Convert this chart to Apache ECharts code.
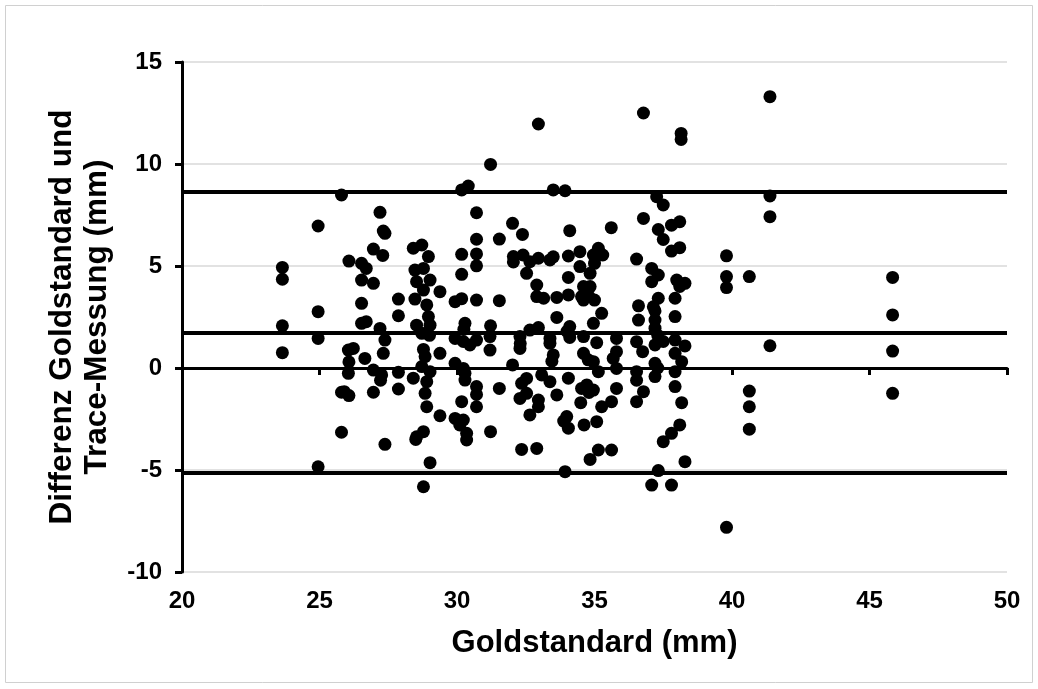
<!DOCTYPE html>
<html>
<head>
<meta charset="utf-8">
<script src="https://cdn.jsdelivr.net/npm/echarts@6/dist/echarts.min.js"></script>
<style>
  html, body { margin: 0; padding: 0; background: #fff; }
  #chart { width: 1038px; height: 689px; }
</style>
</head>
<body>
<div id="chart"></div>
<script>
// Messpunkte: [Goldstandard (mm), Differenz Goldstandard - Trace (mm)]
const messpunkte = [
  [23.65, 4.93], [23.65, 4.35], [23.65, 2.07], [23.65, 0.75],
  [24.95, 6.96], [24.95, 2.76], [24.95, 1.45], [24.95, -4.84],
  [25.8, 8.48], [25.8, -1.19], [25.8, -3.15],
  [26.07, 5.24], [26.05, 0.88], [26.07, 0.3], [26.05, -0.26], [26.07, -1.35], [25.9, -1.16],
  [26.23, 0.96],
  [26.53, 5.13], [26.53, 4.31], [26.53, 3.17], [26.53, 2.19],
  [26.7, 4.88], [26.7, 2.27], [26.65, 0.47],
  [26.96, 5.83], [26.96, 4.15], [26.96, -0.1], [26.96, -1.19],
  [27.2, 7.63], [27.3, 5.52], [27.2, 1.94], [27.26, -0.34], [27.22, -0.6], [27.32, 0.72],
  [27.32, 6.71], [27.38, 6.6], [27.38, 1.37], [27.38, -3.74],
  [27.87, 3.38], [27.87, 2.56], [27.87, -0.21], [27.87, -1.03],
  [28.41, 5.87], [28.47, 4.8], [28.53, 4.23], [28.47, 3.38], [28.53, 2.1], [28.41, -0.5], [28.53, -3.37], [28.5, -3.5],
  [28.72, 6.03], [28.78, 4.88], [28.78, 3.82], [28.72, 1.7], [28.72, 0.07], [28.78, 0.91], [28.84, -1.24], [28.78, -3.12], [28.78, -5.82],
  [28.96, 5.46], [28.9, 3.09], [28.96, 2.52], [28.9, -0.67], [28.9, -1.9], [28.84, 0.56],
  [29.02, 4.31], [29.02, 2.1], [29.0, 1.6], [29.02, -0.18], [29.02, -4.64],
  [29.38, 3.74], [29.38, 0.72], [29.38, -2.34],
  [29.93, 3.25], [29.93, 1.45], [29.93, 0.23], [29.93, -2.47],
  [30.17, 8.73], [30.17, 5.57], [30.17, 4.59], [30.17, 3.4], [30.17, -1.65], [30.1, -2.79], [30.23, -0.02], [30.23, -2.55], [30.23, 1.3],
  [30.41, 8.92], [30.29, 2.19], [30.25, 1.9], [30.29, -0.59], [30.35, -3.2], [30.35, -3.53], [30.47, 1.13], [30.29, -0.26],
  [30.71, 7.61], [30.71, 6.31], [30.71, 5.59], [30.71, 5.01], [30.71, 3.33], [30.71, 1.37], [30.71, -0.91], [30.71, -1.3], [30.71, -1.9],
  [31.22, 9.98], [31.22, 2.07], [31.2, 1.54], [31.2, 0.88], [31.22, -3.12],
  [31.54, 6.32], [31.54, 3.3], [31.54, -1.0],
  [32.02, 7.09], [32.05, 5.46], [32.05, 5.2], [32.02, 0.15],
  [32.38, 6.55], [32.4, 5.54], [32.29, 1.54], [32.29, 0.96], [32.35, -0.75], [32.29, -1.49], [32.35, -3.99], [32.3, 1.2],
  [32.53, 4.64], [32.65, 5.21], [32.65, 1.86], [32.53, -0.51], [32.53, -1.24], [32.65, -2.3],
  [32.96, 11.96], [32.96, 5.38], [32.9, 4.07], [32.9, 3.5], [32.96, 1.98], [32.96, -1.57], [32.96, -1.9], [32.9, -3.94], [33.08, -0.34],
  [33.15, 3.42],
  [33.5, 8.73], [33.38, 5.3], [33.5, 5.45], [33.38, 1.45], [33.38, 1.21], [33.5, 0.64], [33.45, 0.33], [33.38, -0.67],
  [33.63, 3.46], [33.63, 2.48], [33.63, -1.32],
  [33.93, 8.69], [34.05, 5.49], [34.05, 4.44], [34.05, 3.58], [34.1, 6.73], [34.1, 2.03], [34.1, 1.5], [34.05, -0.5],
  [33.99, -2.38], [33.88, -2.6], [34.05, -2.95], [33.93, -5.08], [34.0, 1.8],
  [34.47, 5.7], [34.47, 4.97], [34.53, 3.5], [34.6, 3.99], [34.6, 3.33], [34.6, 1.54], [34.6, 0.72], [34.53, -1.0], [34.5, -1.7], [34.62, -2.79],
  [34.84, 4.64], [34.84, 3.99], [34.8, 3.5], [34.72, -0.83], [34.84, -4.48], [34.77, 0.4], [34.8, -1.2],
  [34.96, 5.54], [35.14, 5.87], [35.0, 5.13], [35.0, 3.33], [34.96, 2.19], [35.08, 1.24], [34.96, 0.31], [35.14, -0.18], [34.96, -1.08], [35.08, -2.63], [35.14, -4.02],
  [35.3, 5.54], [35.26, 2.68], [35.26, -1.9],
  [35.61, 6.88], [35.68, 0.47], [35.62, -1.65], [35.62, -4.02],
  [35.8, 1.45], [35.8, 0.8], [35.8, -0.02], [35.8, -1.0],
  [36.53, 5.34], [36.6, 3.05], [36.6, 2.35], [36.53, 1.29], [36.53, -0.18], [36.53, -0.6], [36.53, -1.65],
  [36.78, 12.5], [36.78, 7.33], [36.78, -1.16], [36.75, 0.8],
  [37.08, 4.88], [37.08, 4.23], [37.14, 3.0], [37.2, 2.8], [37.2, 2.35], [37.2, 1.95], [37.2, 1.13], [37.2, 0.23], [37.2, -0.42], [37.08, -5.74],
  [37.26, 8.4], [37.32, 6.79], [37.32, 4.56], [37.32, 3.42], [37.3, 1.6], [37.3, 0.0], [37.32, -5.03],
  [37.5, 7.99], [37.5, 6.3], [37.5, 1.3], [37.5, -3.61],
  [37.8, 7.0], [37.8, 5.73], [37.8, -3.2], [37.8, -5.74],
  [37.99, 4.31], [37.93, 3.42], [37.93, 2.52], [37.93, 1.37], [37.93, 0.72], [37.93, -0.18], [37.93, -0.91],
  [38.15, 11.5], [38.15, 11.2], [38.1, 7.17], [38.1, 5.9], [38.29, 4.15], [38.1, 4.0], [38.29, 1.08], [38.17, 0.31], [38.17, -1.7], [38.1, -2.79], [38.29, -4.59],
  [39.8, 5.5], [39.8, 4.48], [39.8, 3.94], [39.8, -7.81],
  [40.63, 4.48], [40.63, -1.13], [40.63, -1.9], [40.63, -3.0],
  [41.38, 13.3], [41.38, 8.43], [41.38, 7.42], [41.38, 1.09],
  [45.84, 4.44], [45.84, 2.6], [45.84, 0.83], [45.84, -1.24]
];

// Mittelwert und Übereinstimmungsgrenzen (Bland-Altman)
const grenzen = [8.65, 1.75, -5.15];

const xAchse = { min: 20, max: 50, interval: 5 };
const yAchse = { min: -10, max: 15, interval: 5 };

const chart = echarts.init(document.getElementById('chart'));

const schrift = '"Liberation Sans", Arial, sans-serif';

chart.setOption({
  backgroundColor: '#fff',
  animation: false,
  graphic: [{
    type: 'rect',
    shape: { x: 5.5, y: 5.5, width: 1027, height: 677 },
    style: { fill: 'none', stroke: '#d0d0d0', lineWidth: 1 },
    silent: true
  }],
  grid: { left: 182, right: 31, top: 62, bottom: 117 },
  xAxis: {
    type: 'value',
    min: xAchse.min,
    max: xAchse.max,
    interval: xAchse.interval,
    name: 'Goldstandard (mm)',
    nameLocation: 'middle',
    nameGap: 56,
    nameTextStyle: { fontFamily: schrift, fontWeight: 'bold', fontSize: 31, color: '#000' },
    axisLine: { lineStyle: { color: '#000', width: 3 } },
    axisTick: { show: true, length: 7, lineStyle: { color: '#000', width: 3 } },
    axisLabel: { fontFamily: schrift, fontWeight: 'bold', fontSize: 24, color: '#000', margin: 17 },
    splitLine: { show: false }
  },
  yAxis: {
    type: 'value',
    min: yAchse.min,
    max: yAchse.max,
    interval: yAchse.interval,
    name: 'Differenz Goldstandard und\nTrace-Messung (mm)',
    nameLocation: 'middle',
    nameGap: 67,
    nameTextStyle: { fontFamily: schrift, fontWeight: 'bold', fontSize: 31.5, color: '#000', lineHeight: 35 },
    axisLine: { show: true, lineStyle: { color: '#000', width: 3 } },
    axisTick: { show: true, length: 7, lineStyle: { color: '#000', width: 3 } },
    axisLabel: { fontFamily: schrift, fontWeight: 'bold', fontSize: 24, color: '#000', margin: 20 },
    splitLine: { show: true, lineStyle: { color: '#d9d9d9', width: 1.5 } }
  },
  series: [{
    type: 'scatter',
    data: messpunkte,
    symbol: 'circle',
    symbolSize: 13,
    itemStyle: { color: '#000', opacity: 1 },
    z: 3,
    markLine: {
      silent: true,
      symbol: 'none',
      label: { show: false },
      lineStyle: { color: '#000', width: 4, type: 'solid' },
      data: grenzen.map(v => ({ yAxis: v }))
    }
  }]
});
</script>
</body>
</html>
